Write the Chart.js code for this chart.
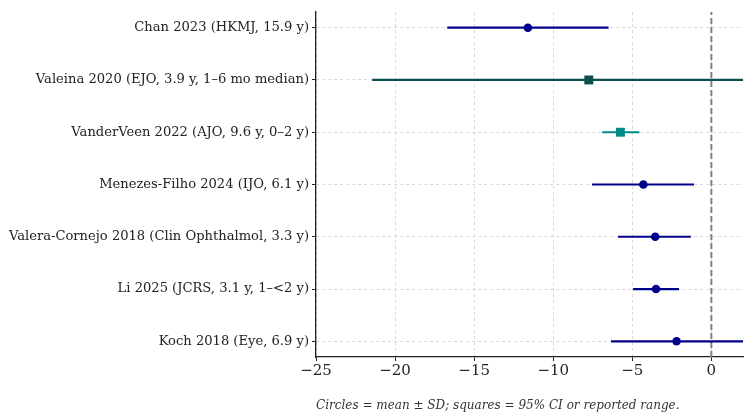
<!DOCTYPE html>
<html>
<head>
<meta charset="utf-8">
<script src="https://cdn.jsdelivr.net/npm/chart.js@4.4.1/dist/chart.umd.min.js"></script>
<style>
  html, body { margin: 0; padding: 0; background: #ffffff; }
  #wrap { width: 753px; height: 419px; position: relative; }
</style>
</head>
<body>
<div id="wrap"><canvas id="forest"></canvas></div>
<script>
// -----------------------------
// DATA (bottom row first)
// -----------------------------
const studies = [
  "Koch 2018 (Eye, 6.9 y)",
  "Li 2025 (JCRS, 3.1 y, 1\u2013<2 y)",
  "Valera-Cornejo 2018 (Clin Ophthalmol, 3.3 y)",
  "Menezes-Filho 2024 (IJO, 6.1 y)",
  "VanderVeen 2022 (AJO, 9.6 y, 0\u20132 y)",
  "Valeina 2020 (EJO, 3.9 y, 1\u20136 mo median)",
  "Chan 2023 (HKMJ, 15.9 y)",
];
const estimates = [-2.2, -3.5, -3.55, -4.3, -5.75, -7.75, -11.6];
const lower = [-6.35, -4.95, -5.9, -7.55, -6.9, -21.45, -16.7];
const upper = [2.0, -2.05, -1.3, -1.1, -4.55, 6.0, -6.5];
const markerType = ["circle", "circle", "circle", "circle", "square", "square", "circle"];
const xTicks = [-25, -20, -15, -10, -5, 0];
const caption = "Circles = mean \u00b1 SD; squares = 95% CI or reported range.";

// -----------------------------
// STYLE
// -----------------------------
function colorFor(i) {
  if (markerType[i] === "circle") return "#00008b";
  if (studies[i].startsWith("Valeina")) return "#0b4f4f";
  return "#008b8b";
}

const datasets = [];

// reference line at zero
datasets.push({
  type: "line",
  data: [{ x: 0, y: -0.3 }, { x: 0, y: 6.3 }],
  borderColor: "#808080",
  borderWidth: 2,
  borderDash: [6, 3],
  pointRadius: 0,
  order: 10,
});

// interval lines
studies.forEach((s, i) => {
  datasets.push({
    type: "line",
    data: [{ x: lower[i], y: i }, { x: upper[i], y: i }],
    borderColor: colorFor(i),
    borderWidth: 2.2,
    pointRadius: 0,
    order: 5,
  });
});

// point estimates
datasets.push({
  type: "scatter",
  data: estimates.map((v, i) => ({ x: v, y: i })),
  pointStyle: markerType.map((m) => (m === "circle" ? "circle" : "rect")),
  pointRadius: markerType.map((m) => (m === "circle" ? 4.3 : 6.3)),
  backgroundColor: studies.map((s, i) => colorFor(i)),
  borderColor: studies.map((s, i) => colorFor(i)),
  borderWidth: 0,
  order: 1,
});

const captionPlugin = {
  id: "caption",
  afterDraw(chart) {
    const ctx = chart.ctx;
    ctx.save();
    ctx.font = "italic 12px 'DejaVu Serif'";
    ctx.fillStyle = "#333333";
    ctx.textAlign = "left";
    ctx.textBaseline = "middle";
    ctx.fillText(caption, 316, 406);
    ctx.restore();
  },
};

new Chart(document.getElementById("forest"), {
  type: "scatter",
  data: { datasets },
  options: {
    responsive: true,
    maintainAspectRatio: false,
    animation: false,
    layout: { padding: { top: 12, right: 10, bottom: 0, left: 0 } },
    plugins: {
      legend: { display: false },
      tooltip: { enabled: false },
    },
    scales: {
      x: {
        type: "linear",
        min: -25,
        max: 2,
        afterBuildTicks(scale) {
          scale.ticks = xTicks.map((v) => ({ value: v }));
        },
        afterFit(scale) {
          scale.height = 62;
        },
        ticks: {
          color: "#222222",
          font: { family: "'DejaVu Serif'", size: 15 },
          padding: 1,
          callback: (v) => (v < 0 ? "\u2212" + Math.abs(v) : String(v)),
        },
        grid: {
          color: "#d0d0d0",
          lineWidth: 0.8,
          tickColor: "#222222",
          tickLength: 4,
          tickWidth: 1,
          tickBorderDash: [],
        },
        border: { display: true, color: "#222222", width: 1.3, dash: [3, 3] },
      },
      y: {
        type: "linear",
        min: -0.3,
        max: 6.3,
        afterBuildTicks(scale) {
          scale.ticks = studies.map((s, i) => ({ value: i }));
        },
        afterFit(scale) {
          scale.width = 316;
        },
        ticks: {
          color: "#222222",
          font: { family: "'DejaVu Serif'", size: 13.1 },
          padding: 3,
          callback: (v) => studies[v],
        },
        grid: {
          color: "#d0d0d0",
          lineWidth: 0.8,
          tickColor: "#222222",
          tickLength: 4,
          tickWidth: 1,
          tickBorderDash: [],
        },
        border: { display: true, color: "#222222", width: 1.3, dash: [3, 3] },
      },
    },
  },
  plugins: [captionPlugin],
});
</script>
</body>
</html>
